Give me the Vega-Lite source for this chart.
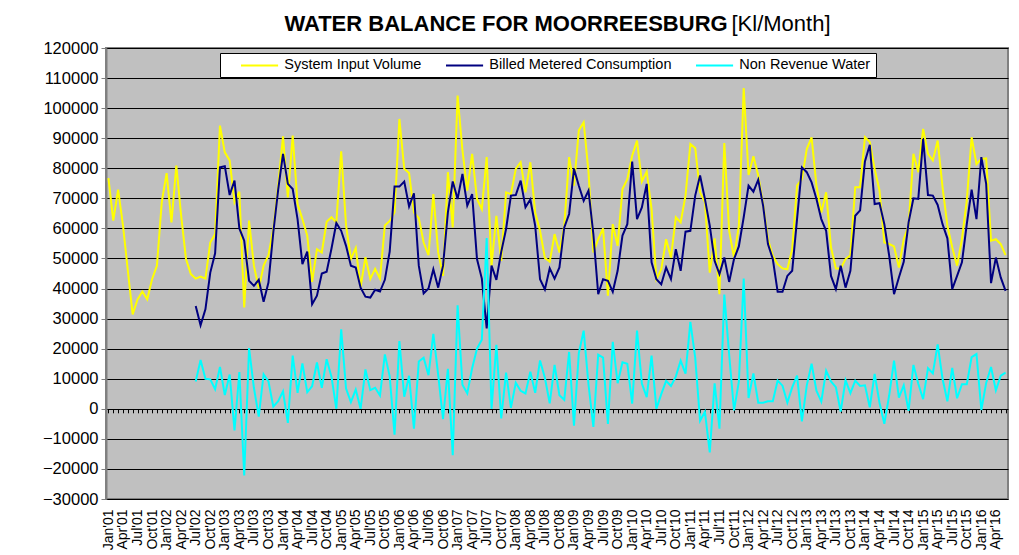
{
"$schema": "https://vega.github.io/schema/vega-lite/v6.json",
"width": 902, "height": 451,
"autosize": {"type": "none"},
"padding": {"left": 106, "top": 48, "right": 11, "bottom": 56},
"background": "#ffffff",
"title": {"text": "WATER BALANCE FOR MOORREESBURG", "font": "Liberation Sans", "fontSize": 22, "fontWeight": "bold", "color": "#000000", "anchor": "middle", "frame": "group", "dx": -51, "dy": 59, "offset": 18, "baseline": "alphabetic"},
"config": {"view": {"fill": "#c0c0c0", "stroke": "#808080", "strokeWidth": 2}, "font": "Liberation Sans"},
"data": {"values": [
{"m":"Jan'01","siv":76700},{"m":"Feb'01","siv":62600},{"m":"Mar'01","siv":72900},{"m":"Apr'01","siv":61000},{"m":"May'01","siv":46000},{"m":"Jun'01","siv":31400},
{"m":"Jul'01","siv":36400},{"m":"Aug'01","siv":39000},{"m":"Sep'01","siv":36400},{"m":"Oct'01","siv":43100},{"m":"Nov'01","siv":47600},{"m":"Dec'01","siv":68700},
{"m":"Jan'02","siv":78400},{"m":"Feb'02","siv":62000},{"m":"Mar'02","siv":80900},{"m":"Apr'02","siv":64200},{"m":"May'02","siv":49800},{"m":"Jun'02","siv":44800},
{"m":"Jul'02","siv":43300,"bmc":34200,"nrw":9100},{"m":"Aug'02","siv":44000,"bmc":27800,"nrw":16200},{"m":"Sep'02","siv":43300,"bmc":33100,"nrw":10000},
{"m":"Oct'02","siv":55300,"bmc":45300,"nrw":9800},{"m":"Nov'02","siv":58100,"bmc":51700,"nrw":6500},{"m":"Dec'02","siv":94200,"bmc":80300,"nrw":13900},
{"m":"Jan'03","siv":85300,"bmc":80700,"nrw":4600},{"m":"Feb'03","siv":82600,"bmc":71100,"nrw":11400},{"m":"Mar'03","siv":68700,"bmc":75900,"nrw":-7200},
{"m":"Apr'03","siv":72200,"bmc":60000,"nrw":12200},{"m":"May'03","siv":33700,"bmc":55900,"nrw":-22200},{"m":"Jun'03","siv":62600,"bmc":42600,"nrw":20200},
{"m":"Jul'03","siv":47600,"bmc":40900,"nrw":7000},{"m":"Aug'03","siv":40000,"bmc":42900,"nrw":-2600},{"m":"Sep'03","siv":47600,"bmc":35600,"nrw":11500},
{"m":"Oct'03","siv":51100,"bmc":42000,"nrw":9100},{"m":"Nov'03","siv":59800,"bmc":58700,"nrw":700},{"m":"Dec'03","siv":74200,"bmc":72800,"nrw":2500},
{"m":"Jan'04","siv":90600,"bmc":84800,"nrw":5800},{"m":"Feb'04","siv":70300,"bmc":74800,"nrw":-4700},{"m":"Mar'04","siv":90900,"bmc":73100,"nrw":17700},
{"m":"Apr'04","siv":68100,"bmc":63100,"nrw":5300},{"m":"May'04","siv":63100,"bmc":48100,"nrw":15100},{"m":"Jun'04","siv":57600,"bmc":52300,"nrw":5500},
{"m":"Jul'04","siv":42200,"bmc":34800,"nrw":7500},{"m":"Aug'04","siv":53100,"bmc":37600,"nrw":15400},{"m":"Sep'04","siv":52000,"bmc":45000,"nrw":7000},
{"m":"Oct'04","siv":62200,"bmc":45600,"nrw":16500},{"m":"Nov'04","siv":63700,"bmc":53300,"nrw":10600},{"m":"Dec'04","siv":62000,"bmc":61800,"nrw":0},
{"m":"Jan'05","siv":85600,"bmc":59200,"nrw":26400},{"m":"Feb'05","siv":61000,"bmc":54200,"nrw":6700},{"m":"Mar'05","siv":49800,"bmc":47600,"nrw":2200},
{"m":"Apr'05","siv":53500,"bmc":47000,"nrw":6400},{"m":"May'05","siv":40500,"bmc":40300,"nrw":0},{"m":"Jun'05","siv":50400,"bmc":37300,"nrw":13100},
{"m":"Jul'05","siv":43200,"bmc":37000,"nrw":6200},{"m":"Aug'05","siv":46600,"bmc":39600,"nrw":7000},{"m":"Sep'05","siv":43300,"bmc":39000,"nrw":4400},
{"m":"Oct'05","siv":61000,"bmc":42900,"nrw":18100},{"m":"Nov'05","siv":62500,"bmc":52300,"nrw":10800},{"m":"Dec'05","siv":65300,"bmc":73900,"nrw":-8600},
{"m":"Jan'06","siv":96400,"bmc":73900,"nrw":22500},{"m":"Feb'06","siv":79800,"bmc":75600,"nrw":4000},{"m":"Mar'06","siv":78400,"bmc":67300,"nrw":11000},
{"m":"Apr'06","siv":65300,"bmc":71700,"nrw":-6600},{"m":"May'06","siv":63400,"bmc":47600,"nrw":15700},{"m":"Jun'06","siv":55300,"bmc":38400,"nrw":17000},
{"m":"Jul'06","siv":51100,"bmc":40000,"nrw":11200},{"m":"Aug'06","siv":71400,"bmc":46400,"nrw":24900},{"m":"Sep'06","siv":52000,"bmc":40300,"nrw":11300},
{"m":"Oct'06","siv":44200,"bmc":47600,"nrw":-3400},{"m":"Nov'06","siv":78700,"bmc":65300,"nrw":13300},{"m":"Dec'06","siv":60300,"bmc":75600,"nrw":-15400},
{"m":"Jan'07","siv":104200,"bmc":69800,"nrw":34400},{"m":"Feb'07","siv":86000,"bmc":78100,"nrw":8000},{"m":"Mar'07","siv":72600,"bmc":67600,"nrw":5100},
{"m":"Apr'07","siv":84800,"bmc":71400,"nrw":13500},{"m":"May'07","siv":69800,"bmc":49800,"nrw":20000},{"m":"Jun'07","siv":66400,"bmc":43300,"nrw":23000},
{"m":"Jul'07","siv":83700,"bmc":26700,"nrw":56800},{"m":"Aug'07","siv":47600,"bmc":47600,"nrw":0},{"m":"Sep'07","siv":64200,"bmc":42900,"nrw":21300},
{"m":"Oct'07","siv":49200,"bmc":52200,"nrw":-3200},{"m":"Nov'07","siv":72000,"bmc":59800,"nrw":12000},{"m":"Dec'07","siv":71400,"bmc":70900,"nrw":300},
{"m":"Jan'08","siv":79800,"bmc":71100,"nrw":8700},{"m":"Feb'08","siv":82000,"bmc":75900,"nrw":6000},{"m":"Mar'08","siv":72000,"bmc":67000,"nrw":5100},
{"m":"Apr'08","siv":82000,"bmc":69600,"nrw":12300},{"m":"May'08","siv":65300,"bmc":60900,"nrw":5300},{"m":"Jun'08","siv":59200,"bmc":43100,"nrw":16100},
{"m":"Jul'08","siv":50200,"bmc":39700,"nrw":10300},{"m":"Aug'08","siv":48900,"bmc":46700,"nrw":1800},{"m":"Sep'08","siv":58100,"bmc":43300,"nrw":14600},
{"m":"Oct'08","siv":52000,"bmc":47000,"nrw":4500},{"m":"Nov'08","siv":60900,"bmc":60300,"nrw":3000},{"m":"Dec'08","siv":83700,"bmc":64800,"nrw":18900},
{"m":"Jan'09","siv":74200,"bmc":79800,"nrw":-5600},{"m":"Feb'09","siv":92600,"bmc":74200,"nrw":18500},{"m":"Mar'09","siv":95300,"bmc":69200,"nrw":26000},
{"m":"Apr'09","siv":78700,"bmc":72600,"nrw":8000},{"m":"May'09","siv":52000,"bmc":58000,"nrw":-6000},{"m":"Jun'09","siv":56400,"bmc":38100,"nrw":18000},
{"m":"Jul'09","siv":60000,"bmc":43100,"nrw":17000},{"m":"Aug'09","siv":37600,"bmc":42600,"nrw":-5000},{"m":"Sep'09","siv":61400,"bmc":38900,"nrw":22300},
{"m":"Oct'09","siv":54200,"bmc":45900,"nrw":8500},{"m":"Nov'09","siv":73100,"bmc":57600,"nrw":15500},{"m":"Dec'09","siv":76400,"bmc":61400,"nrw":15000},
{"m":"Jan'10","siv":84200,"bmc":82200,"nrw":1700},{"m":"Feb'10","siv":89200,"bmc":63100,"nrw":26000},{"m":"Mar'10","siv":75600,"bmc":67000,"nrw":8400},
{"m":"Apr'10","siv":78900,"bmc":74800,"nrw":3900},{"m":"May'10","siv":66400,"bmc":48700,"nrw":17700},{"m":"Jun'10","siv":43100,"bmc":43100,"nrw":0},
{"m":"Jul'10","siv":46400,"bmc":41400,"nrw":4900},{"m":"Aug'10","siv":56400,"bmc":47000,"nrw":9300},{"m":"Sep'10","siv":50300,"bmc":43100,"nrw":7600},
{"m":"Oct'10","siv":63700,"bmc":53100,"nrw":10700},{"m":"Nov'10","siv":62000,"bmc":45900,"nrw":16000},{"m":"Dec'10","siv":70900,"bmc":58900,"nrw":11700},
{"m":"Jan'11","siv":88100,"bmc":59200,"nrw":28900},{"m":"Feb'11","siv":86700,"bmc":70900,"nrw":17000},{"m":"Mar'11","siv":72000,"bmc":77600,"nrw":-4000},
{"m":"Apr'11","siv":68700,"bmc":69800,"nrw":-1000},{"m":"May'11","siv":45300,"bmc":60900,"nrw":-14500},{"m":"Jun'11","siv":56700,"bmc":49200,"nrw":8500},
{"m":"Jul'11","siv":38100,"bmc":44800,"nrw":-6600},{"m":"Aug'11","siv":88400,"bmc":50300,"nrw":38000},{"m":"Sep'11","siv":59200,"bmc":42200,"nrw":18000},
{"m":"Oct'11","siv":50300,"bmc":49800,"nrw":-500},{"m":"Nov'11","siv":60900,"bmc":54000,"nrw":9000},{"m":"Dec'11","siv":106700,"bmc":63700,"nrw":43300},
{"m":"Jan'12","siv":77800,"bmc":74200,"nrw":3600},{"m":"Feb'12","siv":84000,"bmc":72200,"nrw":11800},{"m":"Mar'12","siv":77600,"bmc":76200,"nrw":2000},
{"m":"Apr'12","siv":68100,"bmc":67600,"nrw":2000},{"m":"May'12","siv":56400,"bmc":54800,"nrw":2500},{"m":"Jun'12","siv":50900,"bmc":49800,"nrw":2500},
{"m":"Jul'12","siv":48100,"bmc":38900,"nrw":9400},{"m":"Aug'12","siv":46700,"bmc":38900,"nrw":7700},{"m":"Sep'12","siv":46400,"bmc":44200,"nrw":2100},
{"m":"Oct'12","siv":53100,"bmc":45900,"nrw":7100},{"m":"Nov'12","siv":74200,"bmc":63100,"nrw":11000},{"m":"Dec'12","siv":76400,"bmc":80300,"nrw":-4200},
{"m":"Jan'13","siv":86400,"bmc":78700,"nrw":7700},{"m":"Feb'13","siv":90300,"bmc":75300,"nrw":15000},{"m":"Mar'13","siv":74200,"bmc":69800,"nrw":6000},
{"m":"Apr'13","siv":65300,"bmc":63100,"nrw":2400},{"m":"May'13","siv":72000,"bmc":59200,"nrw":12700},{"m":"Jun'13","siv":53700,"bmc":44200,"nrw":9100},
{"m":"Jul'13","siv":46700,"bmc":39800,"nrw":7200},{"m":"Aug'13","siv":46700,"bmc":47600,"nrw":-900},{"m":"Sep'13","siv":49800,"bmc":40300,"nrw":9500},
{"m":"Oct'13","siv":51100,"bmc":45900,"nrw":5200},{"m":"Nov'13","siv":73700,"bmc":64200,"nrw":9400},{"m":"Dec'13","siv":73700,"bmc":66000,"nrw":7600},
{"m":"Jan'14","siv":90300,"bmc":82300,"nrw":7800},{"m":"Feb'14","siv":88700,"bmc":87800,"nrw":500},{"m":"Mar'14","siv":79800,"bmc":68100,"nrw":11600},
{"m":"Apr'14","siv":72600,"bmc":68400,"nrw":2000},{"m":"May'14","siv":55300,"bmc":61400,"nrw":-5000},{"m":"Jun'14","siv":54800,"bmc":50900,"nrw":4500},
{"m":"Jul'14","siv":54000,"bmc":38100,"nrw":16000},{"m":"Aug'14","siv":47000,"bmc":43700,"nrw":3700},{"m":"Sep'14","siv":56400,"bmc":48900,"nrw":7800},
{"m":"Oct'14","siv":60900,"bmc":62000,"nrw":-700},{"m":"Nov'14","siv":84800,"bmc":70000,"nrw":14600},{"m":"Dec'14","siv":78700,"bmc":69800,"nrw":8300},
{"m":"Jan'15","siv":93100,"bmc":89800,"nrw":3200},{"m":"Feb'15","siv":84800,"bmc":71100,"nrw":13500},{"m":"Mar'15","siv":82600,"bmc":70900,"nrw":11800},
{"m":"Apr'15","siv":89200,"bmc":67800,"nrw":21400},{"m":"May'15","siv":73700,"bmc":61400,"nrw":10000},{"m":"Jun'15","siv":60900,"bmc":56700,"nrw":2500},
{"m":"Jul'15","siv":53700,"bmc":39800,"nrw":13600},{"m":"Aug'15","siv":47600,"bmc":44200,"nrw":3500},{"m":"Sep'15","siv":56400,"bmc":48700,"nrw":8200},
{"m":"Oct'15","siv":69200,"bmc":61400,"nrw":8200},{"m":"Nov'15","siv":90300,"bmc":72900,"nrw":17200},{"m":"Dec'15","siv":81400,"bmc":63100,"nrw":18200},
{"m":"Jan'16","siv":83100,"bmc":83700,"nrw":-400},{"m":"Feb'16","siv":83300,"bmc":74800,"nrw":8600},{"m":"Mar'16","siv":55900,"bmc":41800,"nrw":13900},
{"m":"Apr'16","siv":56400,"bmc":50300,"nrw":6100},{"m":"May'16","siv":54800,"bmc":43700,"nrw":11000},{"m":"Jun'16","siv":51100,"bmc":39200,"nrw":12000}
]},
"transform": [{"fold": ["siv", "bmc", "nrw"], "as": ["series", "value"]}],
"layer": [
{"mark": {"type": "line", "strokeWidth": 2},
 "encoding": {
  "x": {"field": "m", "type": "ordinal", "sort": null, "scale": {"type": "point", "padding": 0.5},
        "axis": {"orient": "bottom", "title": null, "labelAngle": -90, "labelAlign": "right", "labelBaseline": "middle", "labelFont": "Liberation Sans", "labelFontSize": 14, "labelColor": "#000000", "ticks": false, "tickSize": 0, "domain": false, "grid": false, "labelPadding": 10, "labelOverlap": false,
                 "labelExpr": "indexof(['Jan','Apr','Jul','Oct'], substring(datum.value, 0, 3)) >= 0 ? datum.value : ''"}},
  "y": {"field": "value", "type": "quantitative", "scale": {"domain": [-30000, 120000], "nice": false, "zero": false},
        "axis": {"values": [-30000,-20000,-10000,0,10000,20000,30000,40000,50000,60000,70000,80000,90000,100000,110000,120000], "format": "d", "grid": true, "gridColor": "#000000", "gridOpacity": 1, "gridWidth": 1, "domainColor": "#808080", "domainWidth": 2, "tickColor": "#808080", "tickSize": 5, "labelFont": "Liberation Sans", "labelFontSize": 16.5, "labelColor": "#000000", "labelPadding": 3,
                 "title": "[Kl/Month]", "titleAngle": 0, "titleAlign": "left", "titleBaseline": "alphabetic", "titleX": 625, "titleY": -18, "titleFont": "Liberation Sans", "titleFontSize": 22, "titleFontWeight": "normal", "titleColor": "#000000"}},
  "color": {"field": "series", "type": "nominal", "scale": {"domain": ["siv", "bmc", "nrw"], "range": ["#ffff00", "#000080", "#00ffff"]},
        "legend": {"orient": "none", "legendX": 114, "legendY": 5, "direction": "horizontal", "title": " ", "titleOrient": "left", "titlePadding": 16, "titleFontSize": 14.5,
                   "fillColor": "#ffffff", "strokeColor": "#000000", "padding": 5, "symbolType": "M-4,0H4", "symbolSize": 86, "symbolStrokeWidth": 2, "symbolOffset": 11.3,
                   "labelOffset": 17.5, "columnPadding": 20, "labelFont": "Liberation Sans", "labelFontSize": 14.5, "labelColor": "#000000", "labelLimit": 0,
                   "labelExpr": "datum.label == 'siv' ? 'System Input Volume' : datum.label == 'bmc' ? 'Billed Metered Consumption' : 'Non Revenue Water\u00a0\u00a0\u00a0\u00a0\u00a0\u00a0'"}}
 }},
{"mark": {"type": "point", "opacity": 0},
 "encoding": {
  "x": {"field": "m", "type": "ordinal", "sort": null, "scale": {"type": "point", "padding": 0.5},
        "axis": {"orient": "bottom", "offset": -90.2, "title": null, "labels": false, "domain": false, "grid": false, "ticks": true, "tickSize": 4, "tickColor": "#000000", "tickWidth": 1}}
 }}
],
"resolve": {"axis": {"x": "independent"}}
}
